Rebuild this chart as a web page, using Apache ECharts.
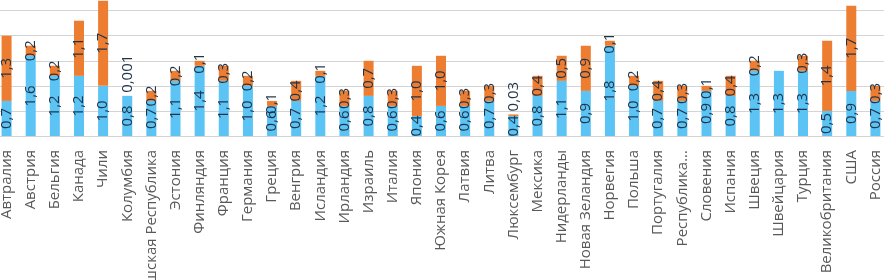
<!DOCTYPE html>
<html><head><meta charset="utf-8">
<script src="https://cdn.jsdelivr.net/npm/echarts@6/dist/echarts.min.js"></script>
<style>html,body{margin:0;padding:0;background:#fff;}#c{width:884px;height:280px;}</style>
</head><body><div id="c"></div>
<script>
const categories = ["Автралия","Австрия","Бельгия","Канада","Чили","Колумбия","Чешская Республика","Эстония","Финляндия","Франция","Германия","Греция","Венгрия","Исландия","Ирландия","Израиль","Италия","Япония","Южная Корея","Латвия","Литва","Люксембург","Мексика","Нидерланды","Новая Зеландия","Норвегия","Польша","Португалия","Республика...","Словения","Испания","Швеция","Швейцария","Турция","Великобритания","США","Россия"];
const blueValues = [0.7,1.6,1.2,1.2,1.0,0.8,0.7,1.1,1.4,1.1,1.0,0.6,0.7,1.2,0.6,0.8,0.6,0.4,0.6,0.6,0.7,0.4,0.8,1.1,0.9,1.8,1.0,0.7,0.7,0.9,0.8,1.3,1.3,1.3,0.5,0.9,0.7];
const orangeValues = [1.3,0.2,0.2,1.1,1.7,0.001,0.2,0.2,0.1,0.3,0.2,0.1,0.4,0.1,0.3,0.7,0.3,1.0,1.0,0.3,0.3,0.03,0.4,0.5,0.9,0.1,0.2,0.4,0.3,0.1,0.4,0.2,null,0.3,1.4,1.7,0.3];
const yTicks = {min:0, max:3, interval:0.5};

function fmt(v){
  if (v == null) return '';
  const s = v >= 0.1 ? v.toFixed(1) : String(v);
  return s.replace('.', ',');
}
const labelColor = '#1f344a';
const labelFont = {fontFamily:'Open Sans', fontSize:15, color:labelColor};

const orangeData = orangeValues.map(v => {
  if (v != null && v < 0.05) {
    return {value: v, label: {position:'top', distance:3, align:'left', verticalAlign:'middle'}};
  }
  return v;
});

const chart = echarts.init(document.getElementById('c'), null, {renderer:'canvas'});
chart.setOption({
  animation:false,
  grid:{left:-5.5, width:893, top:-14.4, bottom:144, containLabel:false, outerBoundsMode:'none'},
  xAxis:{type:'category', data:categories,
    axisLine:{show:true, lineStyle:{color:'#d4d4d4', width:1}},
    axisTick:{show:false},
    axisLabel:{rotate:90, interval:0, margin:14, color:'#595959', fontFamily:'Open Sans', fontSize:15}
  },
  yAxis:{type:'value', min:yTicks.min, max:yTicks.max, interval:yTicks.interval,
    axisLabel:{show:false}, axisLine:{show:false}, axisTick:{show:false},
    splitLine:{lineStyle:{color:'#d4d4d4', width:1}}
  },
  series:[
    {type:'bar', stack:'s', data:blueValues, barWidth:10,
      itemStyle:{color:'#5bc4f4'},
      label:{show:true, position:'inside', rotate:90, formatter:p=>fmt(p.value), ...labelFont}
    },
    {type:'bar', stack:'s', data:orangeData, barWidth:10,
      itemStyle:{color:'#ed7d31'},
      label:{show:true, position:'inside', rotate:90, formatter:p=>fmt(p.value), ...labelFont}
    }
  ]
});
</script>
</body></html>
